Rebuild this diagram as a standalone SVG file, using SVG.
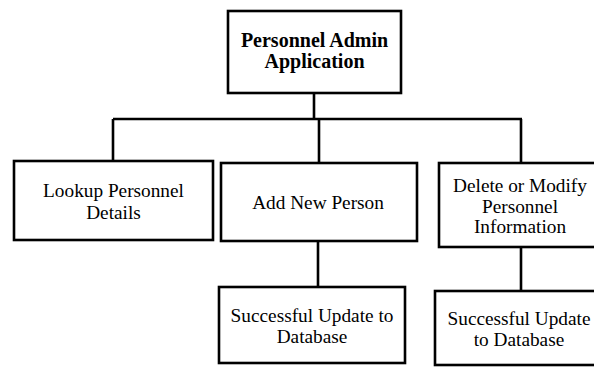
<svg xmlns="http://www.w3.org/2000/svg" width="594" height="367" viewBox="0 0 594 367">
<style>
.box{fill:#fff;stroke:#000;stroke-width:2.6}
.conn{fill:none;stroke:#000;stroke-width:2.6}
.t{font-family:"Liberation Serif","Times New Roman",serif;font-size:19.3px;fill:#000;text-anchor:middle}
.b{font-weight:bold;font-size:20px}
</style>
<rect width="594" height="367" fill="#fff"/>
<g id="connectors">
<path class="conn" d="M314 93V119M113 119H522M113 119V161M319 119V163M521 119V163M318 241V287M521 247V291"/>
</g>
<g id="root">
<rect class="box" x="228" y="11" width="173" height="82"/>
<text class="t b" x="314.5" y="47">Personnel Admin</text>
<text class="t b" x="314.5" y="68">Application</text>
</g>
<g id="lookup">
<rect class="box" x="14" y="161" width="199" height="79"/>
<text class="t" x="113.5" y="197">Lookup Personnel</text>
<text class="t" x="113.5" y="219">Details</text>
</g>
<g id="add">
<rect class="box" x="221" y="163" width="196" height="78"/>
<text class="t" x="318" y="209">Add New Person</text>
</g>
<g id="modify">
<rect class="box" x="439" y="163" width="170" height="84"/>
<text class="t" x="520" y="192">Delete or Modify</text>
<text class="t" x="520" y="213">Personnel</text>
<text class="t" x="520" y="233">Information</text>
</g>
<g id="update1">
<rect class="box" x="219" y="287" width="186" height="76"/>
<text class="t" x="312" y="322">Successful Update to</text>
<text class="t" x="312" y="343">Database</text>
</g>
<g id="update2">
<rect class="box" x="435" y="291" width="174" height="74"/>
<text class="t" x="519" y="325">Successful Update</text>
<text class="t" x="519" y="346">to Database</text>
</g>
</svg>
